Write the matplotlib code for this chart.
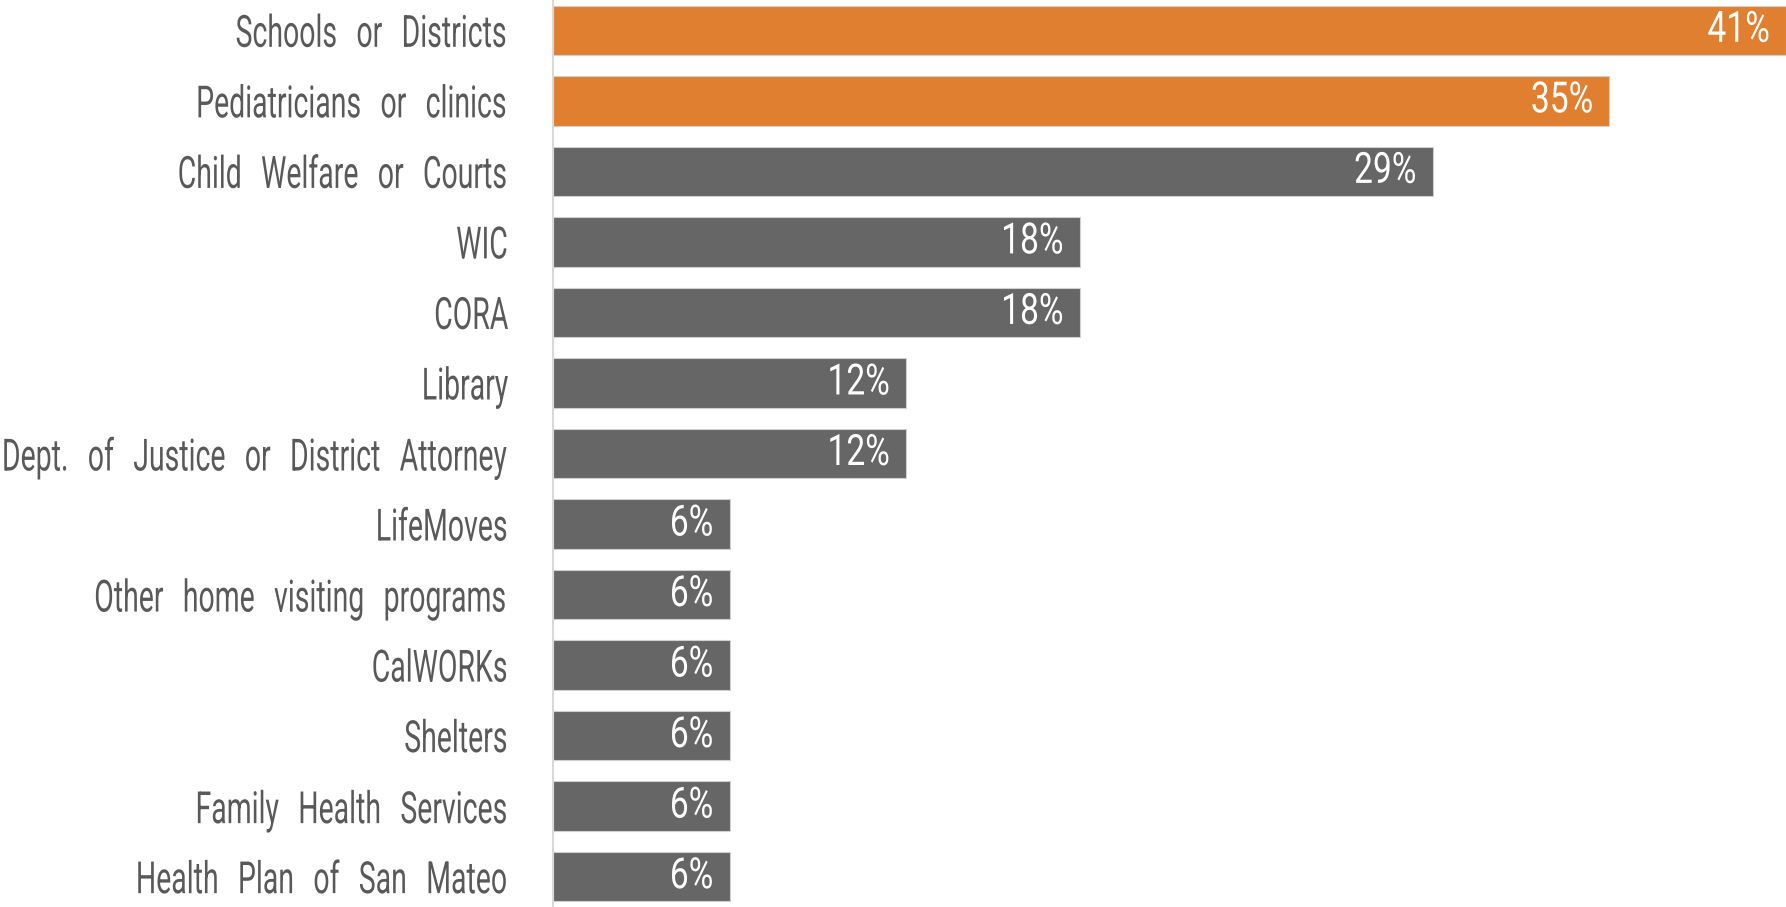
import matplotlib.pyplot as plt
from matplotlib.patheffects import AbstractPathEffect
from matplotlib.transforms import Affine2D

categories = [
    "Schools or Districts",
    "Pediatricians or clinics",
    "Child Welfare or Courts",
    "WIC",
    "CORA",
    "Library",
    "Dept. of Justice or District Attorney",
    "LifeMoves",
    "Other home visiting programs",
    "CalWORKs",
    "Shelters",
    "Family Health Services",
    "Health Plan of San Mateo",
]
values = [41.2, 35.3, 29.4, 17.6, 17.6, 11.8, 11.8, 5.9, 5.9, 5.9, 5.9, 5.9, 5.9]
highlight = [True, True] + [False] * 11

orange = "#E07F30"
grey = "#666666"
font = ["Roboto", "DejaVu Sans"]


class Squeeze(AbstractPathEffect):
    # narrow the glyphs around the right edge, the original uses a condensed face
    def __init__(self, sx):
        super().__init__()
        self.sx = sx

    def draw_path(self, renderer, gc, tpath, affine, rgbFace=None):
        x0 = affine.transform(tpath.vertices)[:, 0].max()
        squeeze = Affine2D().translate(-x0, 0).scale(self.sx, 1).translate(x0, 0)
        renderer.draw_path(gc, tpath, affine + squeeze, rgbFace)


fig = plt.figure(figsize=(17.86, 9.07), dpi=100)
ax = fig.add_axes([553 / 1786, 0, 1 - 553 / 1786, 1])

y = list(range(len(categories)))
colors = [orange if h else grey for h in highlight]
bars = ax.barh(y, values, height=0.7, color=colors, edgecolor="#d0d0d0", linewidth=0.8)

for bar, v in zip(bars, values):
    ax.annotate(f"{round(v):d}%", xy=(bar.get_width(), bar.get_y() + bar.get_height() / 2),
                xytext=(-11.5, 0), textcoords="offset points", ha="right", va="center",
                color="white", fontsize=31, family=font, path_effects=[Squeeze(0.78)])

ax.set_yticks(y)
# wide word gaps like the original face
ax.set_yticklabels([c.replace(" ", "\u2002\u2006") for c in categories],
                   fontsize=32, color="#595959", family=font)
for lbl in ax.get_yticklabels():
    lbl.set_path_effects([Squeeze(0.64)])
ax.tick_params(axis="y", length=0, pad=32)
ax.set_xticks([])
ax.set_xlim(0, 41.2)
ax.set_ylim(12.43, -0.43)

for s in ["top", "right", "bottom"]:
    ax.spines[s].set_visible(False)
ax.spines["left"].set_color("#d9d9d9")
ax.spines["left"].set_linewidth(1.5)

fig.savefig("out.png", dpi=100)
